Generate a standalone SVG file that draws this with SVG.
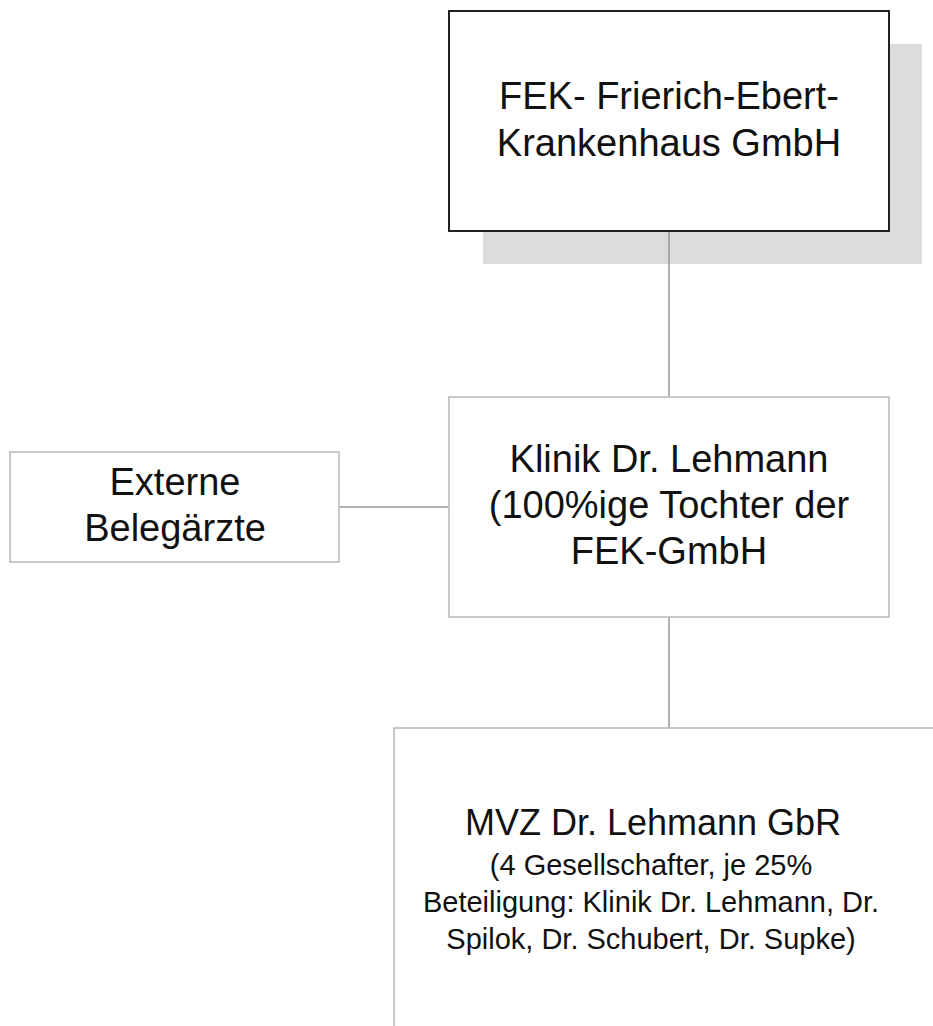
<svg xmlns="http://www.w3.org/2000/svg" width="933" height="1026" viewBox="0 0 933 1026">
<style>
text{font-family:"Liberation Sans",Arial,sans-serif;fill:#111;text-anchor:middle}
.big{font-size:38px}
.mid{font-size:36px}
.small{font-size:29px}
.box{fill:#fff;stroke:#b8b8b8;stroke-width:1.5}
.conn{stroke:#999;stroke-width:1.5;fill:none}
</style>
<rect width="933" height="1026" fill="#fff"/>
<g id="fek">
<rect x="483" y="44" width="439" height="220" fill="#dcdcdc"/>
<rect x="449" y="11" width="440" height="220" fill="#fff" stroke="#222" stroke-width="2"/>
<text class="big" x="669" y="109">FEK- Frierich-Ebert-</text>
<text class="big" x="669" y="156">Krankenhaus GmbH</text>
</g>
<g id="connectors">
<line class="conn" x1="669" y1="232" x2="669" y2="397"/>
<line class="conn" x1="339" y1="507" x2="449" y2="507"/>
<line class="conn" x1="669" y1="617" x2="669" y2="728"/>
</g>
<g id="klinik">
<rect class="box" x="449" y="397" width="440" height="220"/>
<text class="big" x="669" y="472">Klinik Dr. Lehmann</text>
<text class="big" x="669" y="518">(100%ige Tochter der</text>
<text class="big" x="669" y="564">FEK-GmbH</text>
</g>
<g id="extern">
<rect class="box" x="10" y="452" width="329" height="110"/>
<text class="big" x="175" y="495">Externe</text>
<text class="big" x="175" y="541">Belegärzte</text>
</g>
<g id="mvz">
<rect class="box" x="394" y="728" width="560" height="320"/>
<text class="mid" x="653" y="835">MVZ Dr. Lehmann GbR</text>
<text class="small" x="651" y="875">(4 Gesellschafter, je 25%</text>
<text class="small" x="651" y="912">Beteiligung: Klinik Dr. Lehmann, Dr.</text>
<text class="small" x="651" y="949">Spilok, Dr. Schubert, Dr. Supke)</text>
</g>
</svg>
